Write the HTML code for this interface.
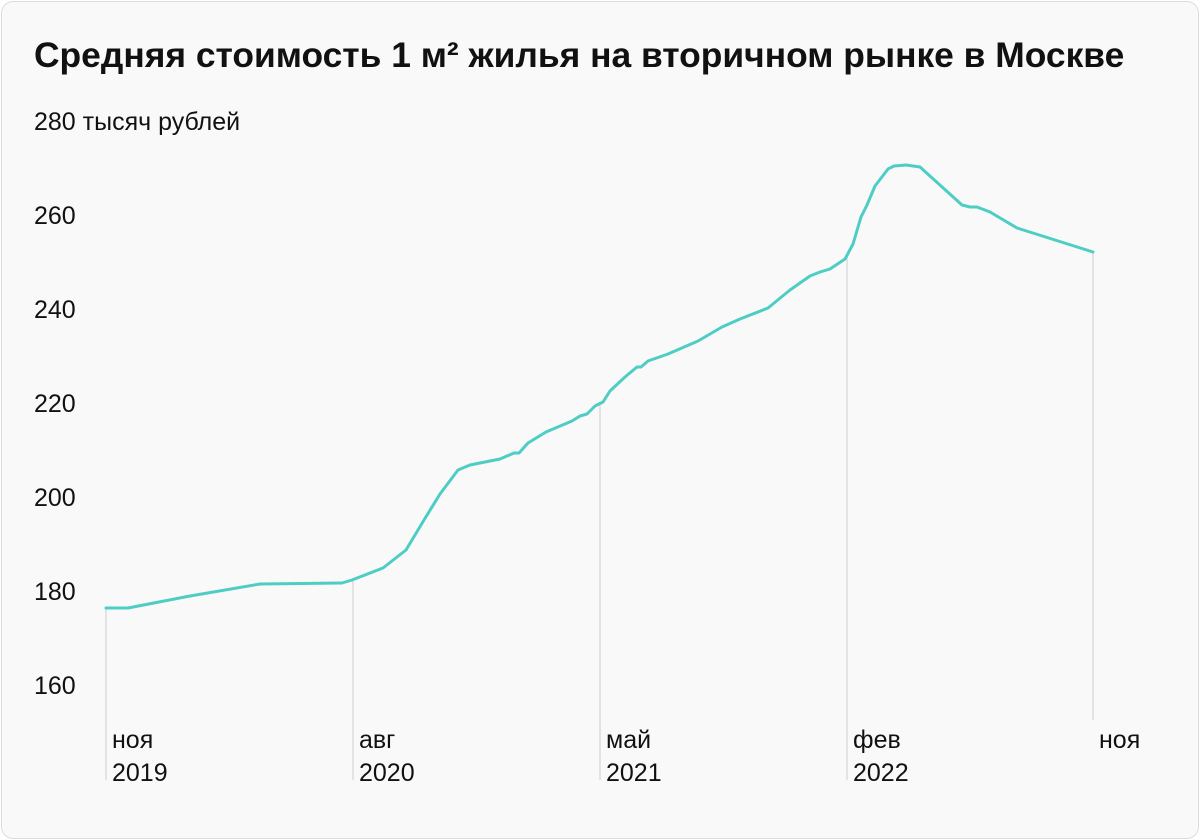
<!DOCTYPE html>
<html><head><meta charset="utf-8"><style>
html,body{margin:0;padding:0;background:#fff;}
.card{position:absolute;left:1px;top:1px;width:1196px;height:836px;border:1px solid #dcdcdc;border-radius:12px;background:#f9f9f9;overflow:hidden;}
svg{position:absolute;left:0;top:0;}
text{font-family:"Liberation Sans",sans-serif;fill:#111;}
</style></head><body>
<div class="card"></div>
<svg width="1200" height="840" viewBox="0 0 1200 840">
<text x="34" y="67" font-size="35.4" font-weight="bold">Средняя стоимость 1 м² жилья на вторичном рынке в Москве</text>
<g font-size="25">
<text x="34" y="130">280 тысяч рублей</text>
<text x="34" y="224">260</text>
<text x="34" y="318">240</text>
<text x="34" y="412">220</text>
<text x="34" y="506">200</text>
<text x="34" y="600">180</text>
<text x="34" y="694">160</text>
</g>
<g stroke="#dcdcdc" stroke-width="1.5">
<line x1="106" y1="608" x2="106" y2="780"/>
<line x1="353" y1="580" x2="353" y2="780"/>
<line x1="600" y1="404" x2="600" y2="780"/>
<line x1="847" y1="255" x2="847" y2="780"/>
<line x1="1093" y1="252" x2="1093" y2="720"/>
</g>
<g font-size="25">
<text x="112" y="748">ноя</text><text x="112" y="781">2019</text>
<text x="359" y="748">авг</text><text x="359" y="781">2020</text>
<text x="606" y="748">май</text><text x="606" y="781">2021</text>
<text x="853" y="748">фев</text><text x="853" y="781">2022</text>
<text x="1099" y="748">ноя</text>
</g>
<polyline fill="none" stroke="#4ecdc4" stroke-width="3" stroke-linejoin="round" stroke-linecap="round" points="106,608 128,608 190,596 260,584 342,583 352,580 383,568 406,550 424,520 440,494 458,470 470,465 500,459 514,453 519,453 528,443 546,432 572,421 580,416 587,414 595,406 603,402 610,391 625,377 637,367 641,367 648,361 668,354 698,341 722,327 740,319 768,308 790,290 810,276 820,272 830,269 845,259 853,244 861,217 867,205 875,186 888,169 894,166 906,165 920,167 962,205 970,207 977,207 990,212 1017,228 1093,252"/>
</svg>
</body></html>
